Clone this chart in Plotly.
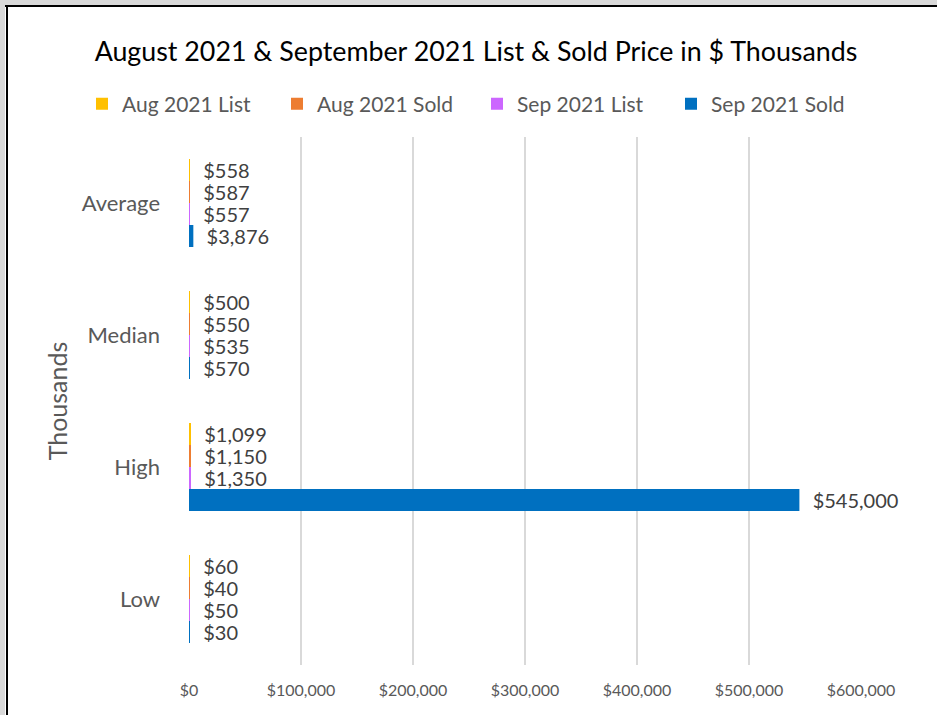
import plotly.graph_objects as go

categories = ["Average", "Median", "High", "Low"]
series_names = ["Aug 2021 List", "Aug 2021 Sold", "Sep 2021 List", "Sep 2021 Sold"]
aug_list = [558, 500, 1099, 60]
aug_sold = [587, 550, 1150, 40]
sep_list = [557, 535, 1350, 50]
sep_sold = [3876, 570, 545000, 30]
colors = ["#FFC000", "#ED7D31", "#CC66FF", "#0070C0"]
x_ticks = [0, 100000, 200000, 300000, 400000, 500000, 600000]
x_tick_labels = ["$" + format(v, ",") for v in x_ticks]

W, H = 937, 715
L, R, T, B = 189, 76, 137, 50
PW, PH = W - L - R, H - T - B
FONT = "Lato, 'Liberation Sans', sans-serif"


def px(v):
    return (v - L) / PW


def py(v):
    return (H - B - v) / PH


legend_ids = ["legend", "legend2", "legend3", "legend4"]
legend_text_x = [122, 317, 517, 711]

fig = go.Figure()
for name, vals, col, lid in zip(series_names, [aug_list, aug_sold, sep_list, sep_sold], colors, legend_ids):
    fig.add_trace(go.Bar(
        name=name, y=categories, x=vals, orientation="h", legend=lid, showlegend=True,
        marker=dict(color=col, line=dict(width=0)),
        texttemplate="\u00a0\u00a0$%{x:,}", textposition="outside",
        textfont=dict(size=20, color="#404040", family=FONT),
        constraintext="none", cliponaxis=False, textangle=0,
    ))

legend_layout = {}
for lid, tx in zip(legend_ids, legend_text_x):
    legend_layout[lid] = dict(
        orientation="h", x=px(tx - 40), xanchor="left", y=py(104), yanchor="middle",
        font=dict(size=21, color="#595959", family=FONT), itemwidth=30,
        bgcolor="rgba(0,0,0,0)", visible=True)

fig.update_layout(
    width=W, height=H, showlegend=True,
    margin=dict(l=L, r=R, t=T, b=B, autoexpand=False),
    paper_bgcolor="white", plot_bgcolor="white",
    barmode="group", bargap=1/3, bargroupgap=0,
    font=dict(family=FONT, color="#595959"),
    title=dict(text="August 2021 & September 2021 List & Sold Price in $ Thousands",
               x=0.508, xanchor="center", y=1 - 52 / H, yanchor="middle",
               xref="container", yref="container",
               font=dict(size=26.8, color="#000000", family=FONT)),
    xaxis=dict(range=[0, 600000], tickvals=x_ticks, ticktext=x_tick_labels,
               showgrid=True, gridcolor="#D9D9D9", gridwidth=1.5, zeroline=False,
               showline=False, ticks="", ticklabelstandoff=14,
               tickfont=dict(size=16, color="#595959", family=FONT), automargin=False),
    yaxis=dict(autorange="reversed", showgrid=False, zeroline=False, showline=False,
               ticks="", ticklabelstandoff=28,
               tickfont=dict(size=22, color="#595959", family=FONT),
               title=dict(text="Thousands", standoff=6, font=dict(size=25, color="#595959", family=FONT)),
               automargin=False),
    shapes=[
        dict(type="rect", xref="paper", yref="paper", x0=px(0), x1=px(W), y0=py(0), y1=py(5),
             fillcolor="#D9D9D9", line=dict(width=0)),
        dict(type="rect", xref="paper", yref="paper", x0=px(0), x1=px(5), y0=py(0), y1=py(H),
             fillcolor="#D9D9D9", line=dict(width=0)),
        dict(type="line", xref="paper", yref="paper", x0=px(5), x1=px(W), y0=py(6), y1=py(6),
             line=dict(color="#000000", width=2)),
        dict(type="line", xref="paper", yref="paper", x0=px(7), x1=px(7), y0=py(5), y1=py(H),
             line=dict(color="#000000", width=2)),
    ],
    **legend_layout,
)

fig.write_html("out.html", config={"displayModeBar": False},
               post_script="document.body.style.margin='0';")
